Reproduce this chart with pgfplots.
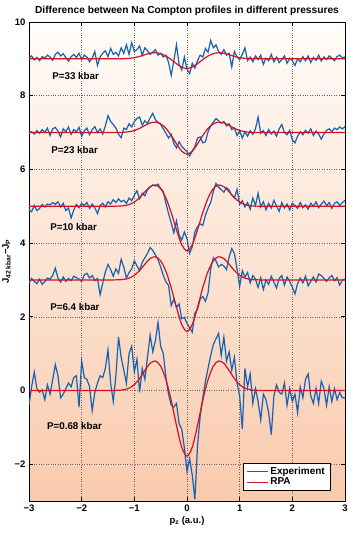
\documentclass[border=0pt]{standalone}
\usepackage{fontspec}
\setmainfont{Liberation Sans}
\usepackage{pgfplots}
\pgfplotsset{compat=1.18}
\definecolor{expblue}{RGB}{22,98,178}
\definecolor{rpared}{RGB}{212,18,36}
\definecolor{bgtop}{RGB}{255,252,249}
\definecolor{bgbot}{RGB}{249,202,172}
\begin{document}
\begin{tikzpicture}
\begin{axis}[
  scale only axis, width=316pt, height=479pt,
  xmin=-3, xmax=3, ymin=-3, ymax=10,
  xtick={-3,-2,-1,0,1,2,3}, xticklabels={−3,−2,−1,0,1,2,3},
  ytick={-2,0,2,4,6,8,10}, yticklabels={−2,0,2,4,6,8,10},
  tick align=inside, major tick length=4pt,
  tick style={black, line width=0.7pt},
  axis line style={black, line width=0.8pt},
  grid=major, grid style={dotted, black!60, line width=0.45pt},
  axis background/.style={top color=bgtop, bottom color=bgbot},
  ticklabel style={font=\bfseries\fontsize{9.5}{10}\selectfont},
  title={Difference between Na Compton profiles in different pressures},
  title style={font=\bfseries\fontsize{10.2}{11}\selectfont, yshift=-3pt},
  xlabel={p\textsubscript{z} (a.u.)},
  xlabel style={font=\bfseries\fontsize{9.5}{11}\selectfont, yshift=2pt},
  ylabel={J\textsubscript{42 kbar}−J\textsubscript{P}},
  ylabel style={font=\bfseries\fontsize{9.5}{11}\selectfont, yshift=-3pt},
  legend style={at={(axis description cs:1,0)}, anchor=south east, xshift=-15pt, yshift=11pt,
    draw=black, fill=white, font=\bfseries\fontsize{10}{11}\selectfont, inner xsep=3pt, inner ysep=1.5pt, row sep=-2pt},
  legend cell align=left,
  legend image code/.code={\draw[#1] (0cm,0cm) -- (0.72cm,0cm);},
  exp/.style={expblue, line width=1.2pt},
  rpa/.style={rpared, line width=1.2pt, smooth},
]
% ---------- Experiment ----------
\addplot[exp] coordinates {
(-3.00,9.02)(-2.95,9.08)(-2.90,8.97)(-2.85,9.04)(-2.80,8.95)(-2.75,9.06)(-2.70,9.02)(-2.65,9.10)(-2.60,9.05)(-2.55,8.96)
(-2.50,9.12)(-2.45,9.18)(-2.40,9.08)(-2.35,9.14)(-2.30,9.03)(-2.25,8.94)(-2.20,9.06)(-2.15,9.12)(-2.10,9.04)(-2.05,9.15)
(-2.00,8.98)(-1.95,9.10)(-1.90,9.05)(-1.85,8.92)(-1.80,9.02)(-1.75,9.20)(-1.70,8.82)(-1.65,9.05)(-1.60,9.15)(-1.55,9.22)
(-1.50,9.06)(-1.45,9.28)(-1.40,9.12)(-1.35,9.18)(-1.30,9.08)(-1.25,9.30)(-1.20,9.15)(-1.15,9.38)(-1.10,9.12)(-1.05,9.44)
(-1.00,9.20)(-0.95,9.25)(-0.90,9.35)(-0.85,9.10)(-0.80,9.30)(-0.75,9.22)(-0.70,9.12)(-0.65,9.18)(-0.60,9.25)(-0.55,9.10)
(-0.50,9.15)(-0.45,9.05)(-0.40,9.10)(-0.35,8.90)(-0.30,8.55)(-0.25,8.95)(-0.20,9.38)(-0.15,8.85)(-0.10,8.70)(-0.05,9.05)
(0.00,8.72)(0.05,8.60)(0.10,8.88)(0.15,8.75)(0.20,8.95)(0.25,9.10)(0.30,9.05)(0.35,9.28)(0.40,9.18)(0.45,9.50)
(0.50,9.30)(0.55,9.38)(0.60,9.20)(0.65,9.12)(0.70,9.25)(0.75,9.10)(0.80,9.15)(0.85,8.78)(0.90,9.20)(0.95,9.05)
(1.00,8.98)(1.05,9.12)(1.10,9.30)(1.15,8.95)(1.20,9.05)(1.25,8.92)(1.30,9.08)(1.35,8.98)(1.40,9.10)(1.45,8.85)
(1.50,9.02)(1.55,8.95)(1.60,9.12)(1.65,8.92)(1.70,9.05)(1.75,8.90)(1.80,8.98)(1.85,9.08)(1.90,8.88)(1.95,9.02)
(2.00,8.95)(2.05,8.82)(2.10,9.00)(2.15,8.92)(2.20,9.06)(2.25,8.95)(2.30,9.08)(2.35,8.90)(2.40,9.04)(2.45,8.96)
(2.50,9.10)(2.55,8.94)(2.60,9.05)(2.65,8.98)(2.70,9.08)(2.75,9.02)(2.80,8.95)(2.85,9.06)(2.90,9.10)(2.95,9.03)(3.00,9.05)
};
\addlegendentry{Experiment}
\addplot[exp, forget plot] coordinates {
(-3.00,6.98)(-2.95,7.02)(-2.90,6.96)(-2.85,7.05)(-2.80,6.98)(-2.75,7.08)(-2.70,7.00)(-2.65,7.12)(-2.60,6.92)(-2.55,7.10)
(-2.50,7.14)(-2.45,7.04)(-2.40,6.88)(-2.35,7.10)(-2.30,7.02)(-2.25,7.15)(-2.20,6.95)(-2.15,7.08)(-2.10,7.02)(-2.05,7.14)
(-2.00,6.90)(-1.95,7.05)(-1.90,7.12)(-1.85,6.94)(-1.80,7.08)(-1.75,7.16)(-1.70,7.00)(-1.65,7.10)(-1.60,6.96)(-1.55,7.18)
(-1.50,7.46)(-1.45,7.30)(-1.40,7.22)(-1.35,7.12)(-1.30,6.95)(-1.25,6.86)(-1.20,7.12)(-1.15,7.08)(-1.10,7.24)(-1.05,7.15)
(-1.00,7.30)(-0.95,7.38)(-0.90,7.42)(-0.85,7.20)(-0.80,7.32)(-0.75,7.25)(-0.70,7.40)(-0.65,7.52)(-0.60,7.35)(-0.55,7.28)
(-0.50,7.22)(-0.45,7.10)(-0.40,6.98)(-0.35,6.85)(-0.30,6.95)(-0.25,6.70)(-0.20,6.58)(-0.15,6.75)(-0.10,6.62)(-0.05,6.55)
(0.00,6.48)(0.05,6.36)(0.10,6.50)(0.15,6.62)(0.20,6.85)(0.25,6.88)(0.30,6.72)(0.35,6.75)(0.40,7.02)(0.45,7.18)
(0.50,7.28)(0.55,7.38)(0.60,7.32)(0.65,7.25)(0.70,7.30)(0.75,7.18)(0.80,7.24)(0.85,7.08)(0.90,7.12)(0.95,6.92)
(1.00,7.05)(1.05,6.85)(1.10,7.02)(1.15,6.90)(1.20,7.05)(1.25,6.95)(1.30,7.10)(1.35,7.42)(1.40,6.98)(1.45,7.05)
(1.50,6.92)(1.55,7.08)(1.60,6.96)(1.65,7.04)(1.70,6.90)(1.75,7.10)(1.80,7.22)(1.85,7.00)(1.90,6.94)(1.95,7.06)
(2.00,6.80)(2.05,6.72)(2.10,6.90)(2.15,7.02)(2.20,6.94)(2.25,7.06)(2.30,6.98)(2.35,7.10)(2.40,6.92)(2.45,7.04)
(2.50,6.96)(2.55,6.82)(2.60,6.96)(2.65,7.06)(2.70,7.10)(2.75,7.02)(2.80,7.12)(2.85,7.08)(2.90,7.15)(2.95,7.10)(3.00,7.16)
};
\addplot[exp, forget plot] coordinates {
(-3.00,4.92)(-2.95,4.85)(-2.90,5.02)(-2.85,4.88)(-2.80,4.94)(-2.75,5.05)(-2.70,4.98)(-2.65,5.06)(-2.60,5.04)(-2.55,5.10)
(-2.50,5.05)(-2.45,5.12)(-2.40,4.98)(-2.35,5.08)(-2.30,4.88)(-2.25,4.95)(-2.20,4.68)(-2.15,4.90)(-2.10,5.05)(-2.05,4.96)
(-2.00,5.08)(-1.95,5.02)(-1.90,5.10)(-1.85,4.94)(-1.80,5.06)(-1.75,4.96)(-1.70,4.80)(-1.65,5.02)(-1.60,5.08)(-1.55,4.98)
(-1.50,5.12)(-1.45,5.06)(-1.40,5.18)(-1.35,5.10)(-1.30,5.20)(-1.25,5.12)(-1.20,5.16)(-1.15,5.08)(-1.10,5.22)(-1.05,5.15)
(-1.00,5.30)(-0.95,5.42)(-0.90,5.20)(-0.85,5.35)(-0.80,5.28)(-0.75,5.45)(-0.70,5.52)(-0.65,5.58)(-0.60,5.55)(-0.55,5.60)
(-0.50,5.48)(-0.45,5.40)(-0.40,5.08)(-0.35,4.80)(-0.30,4.55)(-0.25,4.28)(-0.20,4.60)(-0.15,4.22)(-0.10,4.08)(-0.05,4.30)
(0.00,4.12)(0.05,3.72)(0.10,3.90)(0.15,4.30)(0.20,4.45)(0.25,4.52)(0.30,4.48)(0.35,4.75)(0.40,4.95)(0.45,5.10)
(0.50,5.40)(0.55,5.62)(0.60,5.52)(0.65,5.45)(0.70,5.38)(0.75,5.50)(0.80,5.44)(0.85,5.30)(0.90,5.22)(0.95,5.46)
(1.00,5.05)(1.05,5.15)(1.10,4.98)(1.15,5.10)(1.20,4.92)(1.25,5.22)(1.30,5.02)(1.35,5.35)(1.40,4.98)(1.45,5.12)
(1.50,4.90)(1.55,5.08)(1.60,4.95)(1.65,5.16)(1.70,5.00)(1.75,4.86)(1.80,5.10)(1.85,4.95)(1.90,5.06)(1.95,4.90)
(2.00,5.08)(2.05,5.02)(2.10,4.94)(2.15,5.10)(2.20,4.96)(2.25,5.04)(2.30,4.92)(2.35,5.08)(2.40,5.00)(2.45,5.12)
(2.50,4.96)(2.55,5.06)(2.60,5.14)(2.65,5.02)(2.70,5.10)(2.75,4.94)(2.80,5.08)(2.85,5.12)(2.90,5.02)(2.95,5.10)(3.00,5.16)
};
\addplot[exp, forget plot] coordinates {
(-3.00,2.92)(-2.95,3.04)(-2.90,2.96)(-2.85,2.90)(-2.80,3.02)(-2.75,2.88)(-2.70,2.95)(-2.65,3.05)(-2.60,3.02)(-2.55,3.12)
(-2.50,3.32)(-2.45,3.05)(-2.40,2.94)(-2.35,3.08)(-2.30,2.96)(-2.25,3.04)(-2.20,2.98)(-2.15,3.10)(-2.10,3.06)(-2.05,3.02)
(-2.00,2.96)(-1.95,3.14)(-1.90,3.18)(-1.85,3.05)(-1.80,3.12)(-1.75,2.98)(-1.70,3.04)(-1.65,2.60)(-1.60,2.92)(-1.55,3.22)
(-1.50,3.42)(-1.45,3.28)(-1.40,3.10)(-1.35,3.30)(-1.30,3.18)(-1.25,3.56)(-1.20,3.35)(-1.15,3.05)(-1.10,3.20)(-1.05,3.30)
(-1.00,3.52)(-0.95,3.38)(-0.90,3.25)(-0.85,3.48)(-0.80,3.60)(-0.75,3.72)(-0.70,3.88)(-0.65,3.80)(-0.60,3.68)(-0.55,3.55)
(-0.50,3.35)(-0.45,3.12)(-0.40,2.95)(-0.35,2.85)(-0.30,2.30)(-0.25,2.48)(-0.20,2.25)(-0.15,2.35)(-0.10,1.95)(-0.05,1.98)
(0.00,1.82)(0.05,1.70)(0.10,1.58)(0.15,2.10)(0.20,2.20)(0.25,2.48)(0.30,2.55)(0.35,2.42)(0.40,2.65)(0.45,3.30)
(0.50,3.60)(0.55,3.52)(0.60,3.35)(0.65,3.42)(0.70,3.38)(0.75,3.28)(0.80,3.62)(0.85,3.85)(0.90,3.72)(0.95,3.30)
(1.00,2.82)(1.05,3.25)(1.10,3.08)(1.15,3.20)(1.20,2.92)(1.25,3.12)(1.30,3.02)(1.35,2.80)(1.40,3.06)(1.45,2.74)
(1.50,3.00)(1.55,2.88)(1.60,3.10)(1.65,2.94)(1.70,2.78)(1.75,3.04)(1.80,3.12)(1.85,2.86)(1.90,3.08)(1.95,2.96)
(2.00,2.80)(2.05,2.62)(2.10,2.90)(2.15,3.05)(2.20,2.92)(2.25,3.10)(2.30,2.84)(2.35,2.96)(2.40,3.08)(2.45,2.94)
(2.50,3.16)(2.55,3.12)(2.60,3.04)(2.65,2.96)(2.70,3.06)(2.75,3.12)(2.80,2.98)(2.85,3.06)(2.90,2.86)(2.95,3.00)(3.00,3.02)
};
\addplot[exp, forget plot] coordinates {
(-3.00,-0.40)(-2.95,0.10)(-2.90,0.50)(-2.85,0.05)(-2.80,-0.05)(-2.75,0.02)(-2.70,-0.25)(-2.65,0.15)(-2.60,-0.10)(-2.55,0.30)
(-2.50,0.70)(-2.45,0.40)(-2.40,-0.20)(-2.35,-0.10)(-2.30,0.05)(-2.25,0.20)(-2.20,0.10)(-2.15,0.35)(-2.10,0.40)(-2.05,-0.45)
(-2.00,0.80)(-1.95,0.35)(-1.90,0.30)(-1.85,0.10)(-1.80,-0.55)(-1.75,-0.05)(-1.70,0.20)(-1.65,0.40)(-1.60,0.35)(-1.55,0.60)
(-1.50,1.10)(-1.45,0.20)(-1.40,-0.30)(-1.35,0.40)(-1.30,1.45)(-1.25,0.90)(-1.20,0.55)(-1.15,0.20)(-1.10,1.00)(-1.05,1.20)
(-1.00,0.50)(-0.95,0.85)(-0.90,-0.05)(-0.85,0.60)(-0.80,0.30)(-0.75,0.90)(-0.70,1.50)(-0.65,1.05)(-0.60,1.35)(-0.55,1.85)
(-0.50,1.20)(-0.45,1.00)(-0.40,0.35)(-0.35,-0.10)(-0.30,-0.40)(-0.25,-0.45)(-0.20,-0.35)(-0.15,-0.90)(-0.10,-1.05)(-0.05,-1.55)
(0.00,-2.20)(0.05,-1.85)(0.10,-2.30)(0.15,-2.95)(0.20,-1.50)(0.25,-0.70)(0.30,-0.20)(0.35,0.25)(0.40,0.60)(0.45,0.95)
(0.50,1.25)(0.55,1.40)(0.60,1.55)(0.65,0.95)(0.70,1.45)(0.75,0.80)(0.80,1.05)(0.85,0.55)(0.90,0.90)(0.95,0.20)
(1.00,-0.15)(1.05,-1.05)(1.10,0.60)(1.15,0.10)(1.20,0.45)(1.25,-0.35)(1.30,0.05)(1.35,-0.30)(1.40,-0.80)(1.45,-0.10)
(1.50,-0.25)(1.55,-0.60)(1.60,-1.20)(1.65,-0.15)(1.70,0.15)(1.75,-0.05)(1.80,-0.10)(1.85,0.20)(1.90,-0.40)(1.95,0.05)
(2.00,-0.30)(2.05,-0.10)(2.10,-0.60)(2.15,0.10)(2.20,-0.20)(2.25,0.30)(2.30,0.45)(2.35,-0.15)(2.40,-0.35)(2.45,0.05)
(2.50,-0.35)(2.55,0.25)(2.60,0.05)(2.65,-0.40)(2.70,0.10)(2.75,-0.30)(2.80,0.05)(2.85,-0.25)(2.90,-0.05)(2.95,-0.20)(3.00,-0.20)
};
% ---------- RPA ----------
\addplot[rpa] coordinates {
(-3,9)(-1.5,9)(-1.4,9.000)(-1.3,9.001)(-1.2,9.004)(-1.1,9.013)(-1.0,9.033)(-0.9,9.067)(-0.8,9.112)(-0.7,9.153)(-0.6,9.167)
(-0.5,9.141)(-0.4,9.076)(-0.3,8.979)(-0.2,8.869)(-0.1,8.776)(0,8.738)
(0.1,8.776)(0.2,8.869)(0.3,8.979)(0.4,9.076)(0.5,9.141)(0.6,9.167)(0.7,9.153)(0.8,9.112)(0.9,9.067)(1.0,9.033)
(1.1,9.013)(1.2,9.004)(1.3,9.001)(1.4,9.000)(1.5,9)(3,9)
};
\addlegendentry{RPA}
\addplot[rpa, forget plot] coordinates {
(-3,7)(-1.5,7)(-1.4,7.000)(-1.3,7.002)(-1.2,7.007)(-1.1,7.022)(-1.0,7.056)(-0.9,7.114)(-0.8,7.192)(-0.7,7.260)(-0.6,7.283)
(-0.5,7.235)(-0.4,7.111)(-0.3,6.920)(-0.2,6.692)(-0.1,6.494)(0,6.414)
(0.1,6.494)(0.2,6.692)(0.3,6.920)(0.4,7.111)(0.5,7.235)(0.6,7.283)(0.7,7.260)(0.8,7.192)(0.9,7.114)(1.0,7.056)
(1.1,7.022)(1.2,7.007)(1.3,7.002)(1.4,7.000)(1.5,7)(3,7)
};
\addplot[rpa, forget plot] coordinates {
(-3,5)(-1.5,5)(-1.4,5.001)(-1.3,5.004)(-1.2,5.014)(-1.1,5.045)(-1.0,5.113)(-0.9,5.233)(-0.8,5.390)(-0.7,5.529)(-0.6,5.576)
(-0.5,5.478)(-0.4,5.223)(-0.3,4.830)(-0.2,4.362)(-0.1,3.954)(0,3.789)
(0.1,3.954)(0.2,4.362)(0.3,4.830)(0.4,5.223)(0.5,5.478)(0.6,5.576)(0.7,5.529)(0.8,5.390)(0.9,5.233)(1.0,5.113)
(1.1,5.045)(1.2,5.014)(1.3,5.004)(1.4,5.001)(1.5,5)(3,5)
};
\addplot[rpa, forget plot] coordinates {
(-3,3)(-1.5,3)(-1.4,3.001)(-1.3,3.004)(-1.2,3.016)(-1.1,3.049)(-1.0,3.124)(-0.9,3.255)(-0.8,3.426)(-0.7,3.579)(-0.6,3.629)
(-0.5,3.519)(-0.4,3.233)(-0.3,2.790)(-0.2,2.257)(-0.1,1.791)(0,1.601)
(0.1,1.791)(0.2,2.257)(0.3,2.790)(0.4,3.233)(0.5,3.519)(0.6,3.629)(0.7,3.579)(0.8,3.426)(0.9,3.255)(1.0,3.124)
(1.1,3.049)(1.2,3.016)(1.3,3.004)(1.4,3.001)(1.5,3)(3,3)
};
\addplot[rpa, forget plot] coordinates {
(-3,0)(-1.5,0)(-1.4,0.001)(-1.3,0.005)(-1.2,0.020)(-1.1,0.062)(-1.0,0.157)(-0.9,0.324)(-0.8,0.542)(-0.7,0.736)(-0.6,0.800)
(-0.5,0.660)(-0.4,0.296)(-0.3,-0.267)(-0.2,-0.946)(-0.1,-1.539)(0,-1.780)
(0.1,-1.539)(0.2,-0.946)(0.3,-0.267)(0.4,0.296)(0.5,0.660)(0.6,0.800)(0.7,0.736)(0.8,0.542)(0.9,0.324)(1.0,0.157)
(1.1,0.062)(1.2,0.020)(1.3,0.005)(1.4,0.001)(1.5,0)(3,0)
};
% ---------- labels ----------
\begin{scope}[every node/.style={anchor=west, inner sep=0pt, font=\bfseries\fontsize{9.8}{11}\selectfont}]
\node at (axis cs:-2.56,8.53) {P=33 kbar};
\node at (axis cs:-2.58,6.53) {P=23 kbar};
\node at (axis cs:-2.60,4.44) {P=10 kbar};
\node at (axis cs:-2.60,2.27) {P=6.4 kbar};
\node at (axis cs:-2.66,-0.96) {P=0.68 kbar};
\end{scope}
\end{axis}
\pgfresetboundingbox
\useasboundingbox ([xshift=-29pt,yshift=-32pt]current axis.south west) rectangle ([xshift=8pt,yshift=22pt]current axis.north east);
\end{tikzpicture}
\end{document}
